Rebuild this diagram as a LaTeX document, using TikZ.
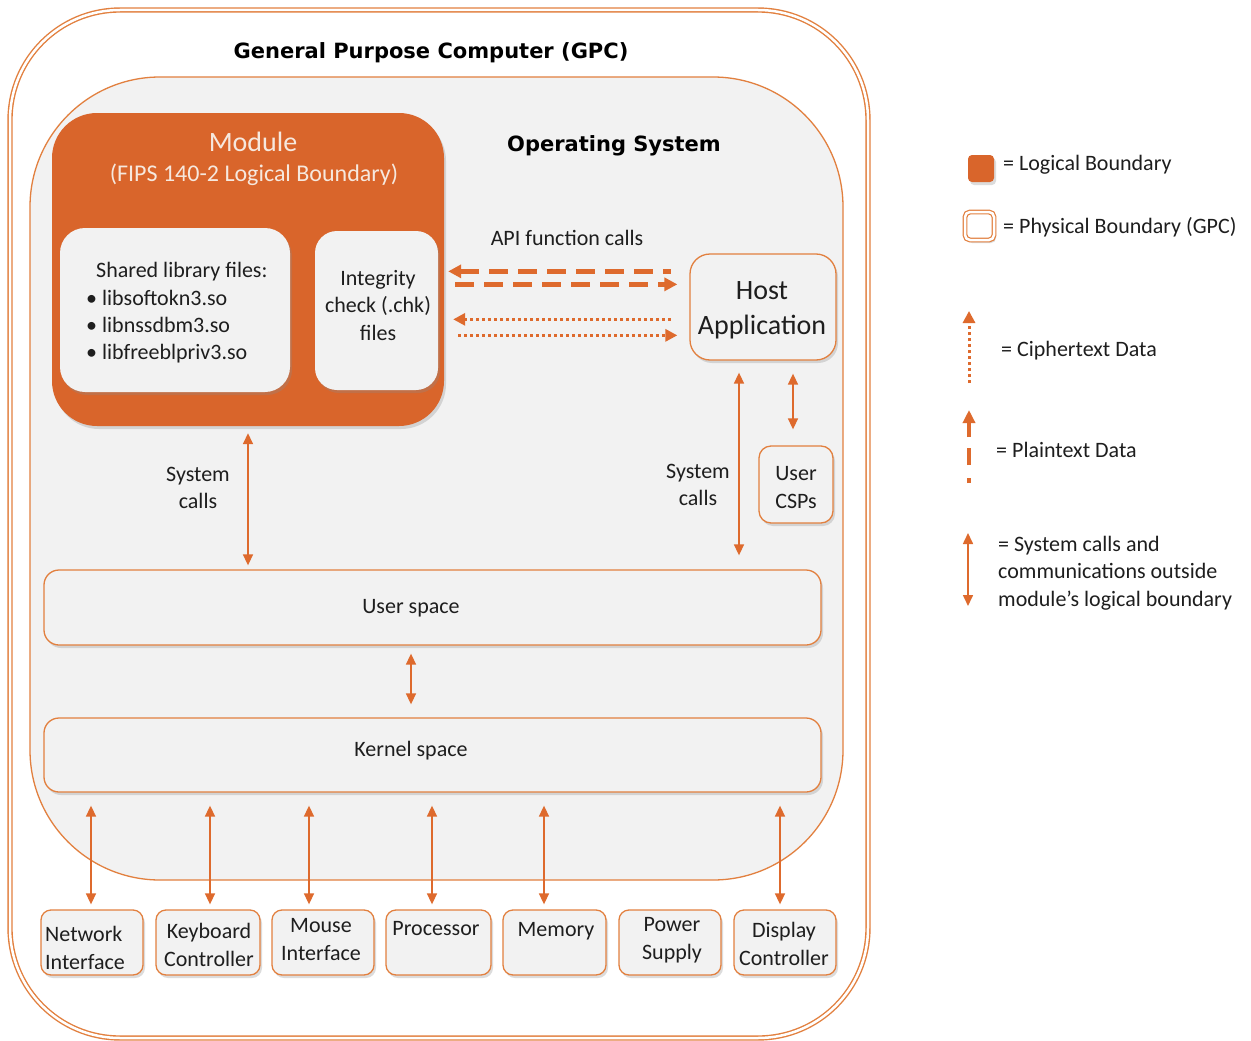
\documentclass[tikz,border=0pt]{standalone}
\usepackage{fontspec}
\setmainfont{Carlito}
\newfontfamily\titlefont{DejaVu Sans}
\usetikzlibrary{arrows.meta,shadows}
\definecolor{ofill}{HTML}{D9652B}
\definecolor{oline}{HTML}{E2803F}
\definecolor{oarr}{HTML}{DE6A2D}
\definecolor{lgray}{HTML}{F2F2F2}
\definecolor{txt}{HTML}{1E1E1E}
\definecolor{mtxt}{HTML}{F6E8DE}
\tikzset{
  shad/.style={drop shadow={shadow xshift=2pt,shadow yshift=-3pt,opacity=0.3,fill=black!45}},
  gbox/.style={draw=oline,line width=1.3pt,fill=lgray,rounded corners=#1,shad,inner sep=0pt},
  gbox/.default=12pt,
  tx/.style={font=\fontsize{22}{27}\selectfont,text=txt,inner sep=0pt,align=center},
  ttl/.style={font=\titlefont\bfseries\fontsize{21}{25}\selectfont,text=black,inner sep=0pt},
  sysarr/.style={draw=oarr,line width=1.6pt,{Triangle[width=10pt,length=11pt]}-{Triangle[width=10pt,length=11pt]}},
  dasharr/.style={draw=oarr,line width=4.5pt,dash pattern=on 19pt off 10pt},
  dotarr/.style={draw=oarr,line width=3pt,dash pattern=on 3pt off 3pt},
}
\begin{document}
\begin{tikzpicture}[x=1pt,y=-1pt]
\useasboundingbox (0,0) rectangle (1251,1041);
\fill[white] (0,0) rectangle (1251,1041);

% GPC and OS
\node[draw=oline,line width=1.4pt,double=white,double distance=2.5pt,rounded corners=110pt,
      minimum width=858pt,minimum height=1028pt,inner sep=0pt] (gpc) at (439,524) {};
\node[draw=oline,line width=1.3pt,fill=lgray,rounded corners=130pt,
      minimum width=813pt,minimum height=803pt,inner sep=0pt] (os) at (436.5,478.5) {};
\node[ttl] (gpct) at (431,53) {General Purpose Computer (GPC)};
\node[ttl] (ost) at (614,146) {Operating System};

% Module
\node[fill=ofill,rounded corners=45pt,minimum width=392pt,minimum height=313pt,shad,inner sep=0pt] (module) at (248,269.5) {};
\node[font=\fontsize{28}{32}\selectfont,text=mtxt,inner sep=0pt] (modt) at (253,142) {Module};
\node[font=\fontsize{24}{28}\selectfont,text=mtxt,inner sep=0pt] (fips) at (254,175) {(FIPS 140-2 Logical Boundary)};

\node[fill=lgray,rounded corners=25pt,minimum width=230pt,minimum height=164pt,shad,inner sep=0pt] (shared) at (175,310) {};
\node[tx,align=left,anchor=north west] (sharedt) at (86,262)
  {\hspace*{10pt}Shared library files:\\[1pt]\textbullet\ libsoftokn3.so\\\textbullet\ libnssdbm3.so\\\textbullet\ libfreeblpriv3.so};

\node[fill=lgray,rounded corners=22pt,minimum width=123pt,minimum height=159pt,shad,inner sep=0pt] (integ) at (376.5,310.5) {};
\node[tx,font=\fontsize{22}{27.5}\selectfont] (integt) at (378,305.5) {Integrity\\check (.chk)\\files};

% Host & CSPs
\node[gbox=20pt,minimum width=146pt,minimum height=106pt] (host) at (763,307) {};
\node[tx,font=\fontsize{28}{35}\selectfont] (hostt) at (762,310) {Host\\Application};
\node[gbox=12pt,minimum width=74pt,minimum height=77pt] (csp) at (796,484.5) {};
\node[tx,font=\fontsize{22}{28}\selectfont] (cspt) at (796,488) {User\\CSPs};

\node[tx] (api) at (567,238) {API function calls};

% API arrows
\draw[dasharr,{Triangle[width=13pt,length=13pt]}-,shorten <=4pt,shorten >=18pt] (module.east |- host.north) ++(0,18) coordinate (d1a) -- (host.west |- d1a);
\draw[dasharr,-{Triangle[width=13pt,length=13pt]},shorten <=11pt,shorten >=12pt] (module.east |- host.north) ++(0,31) coordinate (d2a) -- (host.west |- d2a);
\draw[dotarr,{Triangle[width=12pt,length=12pt]}-,shorten <=9pt,shorten >=16pt] (module.east |- host.north) ++(0,66) coordinate (p1a) -- (host.west |- p1a);
\draw[dotarr,-{Triangle[width=12pt,length=12pt]},shorten <=14pt,shorten >=12pt] (module.east |- host.north) ++(0,82) coordinate (p2a) -- (host.west |- p2a);

% User / Kernel space
\node[gbox=15pt,minimum width=777pt,minimum height=75pt] (user) at (432.5,607.5) {};
\node[tx] (usert) at (411,608) {User space};
\node[gbox=15pt,minimum width=777pt,minimum height=74pt] (kernel) at (432.5,755) {};
\node[tx] (kernelt) at (411,751) {Kernel space};

% System calls
\draw[sysarr,shorten <=7pt,shorten >=4pt] (module.south) -- (module.south |- user.north);
\node[tx] (sc1) at (198,488) {System\\calls};
\coordinate (sr) at ([xshift=-24pt]host.south);
\draw[sysarr,shorten <=12pt,shorten >=14pt] (sr) -- (sr |- user.north);
\node[tx] (sc2) at (698,485) {System\\calls};
\coordinate (hc) at ([xshift=-3pt]csp.north);
\draw[sysarr,shorten <=13pt,shorten >=16pt] (hc |- host.south) -- (hc);
\coordinate (uk) at (411,0);
\draw[sysarr,shorten <=8pt,shorten >=13pt] (uk |- user.south) -- (uk |- kernel.north);

% Hardware boxes
\tikzset{hw/.style={gbox=10pt,minimum height=65pt}}
\node[hw,minimum width=102pt] (net) at (92,942.5) {};
\node[hw,minimum width=104pt] (key) at (208,942.5) {};
\node[hw,minimum width=102pt] (mouse) at (323,942.5) {};
\node[hw,minimum width=105pt] (proc) at (438.5,942.5) {};
\node[hw,minimum width=103pt] (mem) at (554.5,942.5) {};
\node[hw,minimum width=102pt] (power) at (670,942.5) {};
\node[hw,minimum width=102pt] (disp) at (785,942.5) {};
\tikzset{hwt/.style={tx,font=\fontsize{22}{28}\selectfont}}
\node[hwt,align=left,anchor=west] (nett) at (45,948) {Network\\Interface};
\node[hwt] (keyt) at (209,945) {Keyboard\\Controller};
\node[hwt] (mouset) at (321,940) {Mouse\\Interface};
\node[hwt] (proct) at (436,929) {Processor};
\node[hwt] (memt) at (556,931) {Memory};
\node[hwt] (powert) at (672,940) {Power\\Supply};
\node[hwt] (dispt) at (784,943.5) {Display\\Controller};

\foreach \xx/\bx in {91/net,210/key,309/mouse,432/proc,544/mem,780/disp}{
  \coordinate (hw\bx) at (\xx,0);
  \draw[sysarr,shorten <=13pt,shorten >=5pt] (hw\bx |- kernel.south) -- (hw\bx |- \bx.north);
}

% Legend
\node[fill=ofill,rounded corners=4pt,minimum width=26pt,minimum height=27pt,shad,inner sep=0pt] (lg1) at (981,168.5) {};
\node[tx,anchor=west] (lg1t) at (1003,165) {= Logical Boundary};
\node[draw=oline,line width=1.2pt,fill=white,double=white,double distance=2.5pt,rounded corners=5pt,
      minimum width=29pt,minimum height=28pt,shad,inner sep=0pt] (lg2) at (979.5,226) {};
\node[tx,anchor=west] (lg2t) at (1003,227) {= Physical Boundary (GPC)};

\coordinate (l3b) at (969,383);
\coordinate (l3t) at (969,311);
\draw[dotarr,-{Triangle[width=12pt,length=12pt]}] (l3b) -- (l3t);
\node[tx,anchor=west] (lg3t) at (1001,351) {= Ciphertext Data};

\coordinate (l4b) at (969,483);
\coordinate (l4t) at (969,410);
\draw[draw=oarr,line width=4pt,dash pattern=on 5pt off 13pt on 17pt off 11pt on 60pt,-{Triangle[width=12pt,length=13pt]}] (l4b) -- (l4t);
\node[tx,anchor=west] (lg4t) at (996,450) {= Plaintext Data};

\coordinate (l5b) at (968,606);
\coordinate (l5t) at (968,533);
\draw[sysarr] (l5b) -- (l5t);
\node[tx,align=left,anchor=west,font=\fontsize{22}{27.5}\selectfont] (lg5t) at (998,573)
  {= System calls and\\communications outside\\module’s logical boundary};
\end{tikzpicture}
\end{document}
